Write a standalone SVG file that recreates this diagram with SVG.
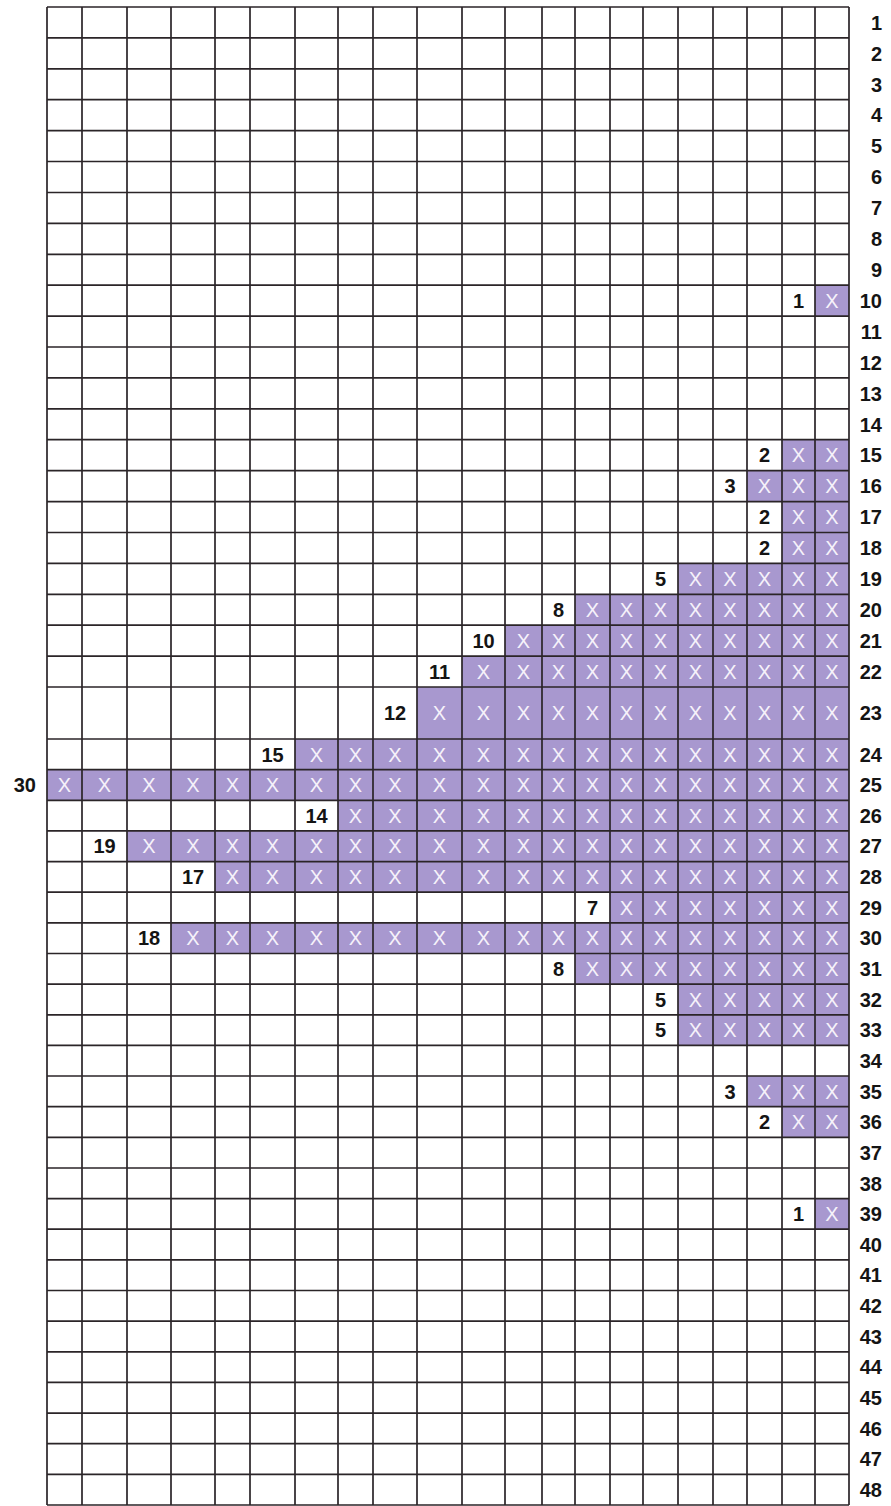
<svg xmlns="http://www.w3.org/2000/svg" width="891" height="1506" viewBox="0 0 891 1506">
<style>
.bg{fill:#ffffff}
.fill{fill:#a898cf}
.grid{fill:none;stroke:#2b2528;stroke-width:1.7}
.lbl{font-family:"Liberation Sans",Arial,sans-serif;font-size:20px;font-weight:bold;fill:#141414;text-anchor:middle}
.rn{font-family:"Liberation Sans",Arial,sans-serif;font-size:20px;font-weight:bold;fill:#141414;text-anchor:end}
.x{font-family:"Liberation Sans",Arial,sans-serif;font-size:20px;fill:#f6f2fa;text-anchor:middle}
</style>
<rect class="bg" x="0" y="0" width="891" height="1506"/>
<g id="fills">
<rect class="fill" x="815" y="285.2" width="34" height="30.9"/>
<rect class="fill" x="782" y="439.7" width="67" height="30.9"/>
<rect class="fill" x="747" y="470.6" width="102" height="30.9"/>
<rect class="fill" x="782" y="501.6" width="67" height="30.9"/>
<rect class="fill" x="782" y="532.5" width="67" height="30.9"/>
<rect class="fill" x="678" y="563.4" width="171" height="30.9"/>
<rect class="fill" x="575" y="594.3" width="274" height="30.9"/>
<rect class="fill" x="505" y="625.2" width="344" height="30.9"/>
<rect class="fill" x="462" y="656.1" width="387" height="30.9"/>
<rect class="fill" x="417" y="687" width="432" height="52"/>
<rect class="fill" x="295" y="739" width="554" height="30.64"/>
<rect class="fill" x="47" y="769.6" width="802" height="30.64"/>
<rect class="fill" x="338" y="800.3" width="511" height="30.64"/>
<rect class="fill" x="127" y="830.9" width="722" height="30.64"/>
<rect class="fill" x="215" y="861.6" width="634" height="30.64"/>
<rect class="fill" x="610" y="892.2" width="239" height="30.64"/>
<rect class="fill" x="171" y="922.8" width="678" height="30.64"/>
<rect class="fill" x="575" y="953.5" width="274" height="30.64"/>
<rect class="fill" x="678" y="984.1" width="171" height="30.64"/>
<rect class="fill" x="678" y="1014.8" width="171" height="30.64"/>
<rect class="fill" x="747" y="1076" width="102" height="30.64"/>
<rect class="fill" x="782" y="1106.7" width="67" height="30.64"/>
<rect class="fill" x="815" y="1198.6" width="34" height="30.64"/>
</g>
<g id="grid">
<path class="grid" d="M47 7H849M47 37.9H849M47 68.8H849M47 99.7H849M47 130.6H849M47 161.5H849M47 192.5H849M47 223.4H849M47 254.3H849M47 285.2H849M47 316.1H849M47 347H849M47 377.9H849M47 408.8H849M47 439.7H849M47 470.6H849M47 501.6H849M47 532.5H849M47 563.4H849M47 594.3H849M47 625.2H849M47 656.1H849M47 687H849M47 739H849M47 769.6H849M47 800.3H849M47 830.9H849M47 861.6H849M47 892.2H849M47 922.8H849M47 953.5H849M47 984.1H849M47 1014.8H849M47 1045.4H849M47 1076H849M47 1106.7H849M47 1137.3H849M47 1168H849M47 1198.6H849M47 1229.2H849M47 1259.9H849M47 1290.5H849M47 1321.2H849M47 1351.8H849M47 1382.4H849M47 1413.1H849M47 1443.7H849M47 1474.4H849M47 1505H849"/>
<path class="grid" d="M47 7V1505M82 7V1505M127 7V1505M171 7V1505M215 7V1505M250 7V1505M295 7V1505M338 7V1505M373 7V1505M417 7V1505M462 7V1505M505 7V1505M542 7V1505M575 7V1505M610 7V1505M643 7V1505M678 7V1505M713 7V1505M747 7V1505M782 7V1505M815 7V1505M849 7V1505"/>
</g>
<g id="row-numbers">
<text class="rn" x="882" y="29.7">1</text><text class="rn" x="882" y="60.6">2</text><text class="rn" x="882" y="91.5">3</text><text class="rn" x="882" y="122.4">4</text><text class="rn" x="882" y="153.3">5</text><text class="rn" x="882" y="184.2">6</text><text class="rn" x="882" y="215.1">7</text><text class="rn" x="882" y="246">8</text><text class="rn" x="882" y="276.9">9</text><text class="rn" x="882" y="307.8">10</text>
<text class="rn" x="882" y="338.8">11</text><text class="rn" x="882" y="369.7">12</text><text class="rn" x="882" y="400.6">13</text><text class="rn" x="882" y="431.5">14</text><text class="rn" x="882" y="462.4">15</text><text class="rn" x="882" y="493.3">16</text><text class="rn" x="882" y="524.2">17</text><text class="rn" x="882" y="555.1">18</text><text class="rn" x="882" y="586">19</text><text class="rn" x="882" y="616.9">20</text>
<text class="rn" x="882" y="647.9">21</text><text class="rn" x="882" y="678.8">22</text><text class="rn" x="882" y="720.2">23</text><text class="rn" x="882" y="761.5">24</text><text class="rn" x="882" y="792.2">25</text><text class="rn" x="882" y="822.8">26</text><text class="rn" x="882" y="853.4">27</text><text class="rn" x="882" y="884.1">28</text><text class="rn" x="882" y="914.7">29</text><text class="rn" x="882" y="945.4">30</text>
<text class="rn" x="882" y="976">31</text><text class="rn" x="882" y="1006.6">32</text><text class="rn" x="882" y="1037.3">33</text><text class="rn" x="882" y="1067.9">34</text><text class="rn" x="882" y="1098.6">35</text><text class="rn" x="882" y="1129.2">36</text><text class="rn" x="882" y="1159.8">37</text><text class="rn" x="882" y="1190.5">38</text><text class="rn" x="882" y="1221.1">39</text><text class="rn" x="882" y="1251.8">40</text>
<text class="rn" x="882" y="1282.4">41</text><text class="rn" x="882" y="1313">42</text><text class="rn" x="882" y="1343.7">43</text><text class="rn" x="882" y="1374.3">44</text><text class="rn" x="882" y="1405">45</text><text class="rn" x="882" y="1435.6">46</text><text class="rn" x="882" y="1466.2">47</text><text class="rn" x="882" y="1496.9">48</text>
</g>
<g id="row10"><text class="lbl" x="798.5" y="307.8">1</text><text class="x" x="832" y="307.8">X</text></g>
<g id="row15"><text class="lbl" x="764.5" y="462.4">2</text><text class="x" x="798.5" y="462.4">X</text><text class="x" x="832" y="462.4">X</text></g>
<g id="row16"><text class="lbl" x="730" y="493.3">3</text><text class="x" x="764.5" y="493.3">X</text><text class="x" x="798.5" y="493.3">X</text><text class="x" x="832" y="493.3">X</text></g>
<g id="row17"><text class="lbl" x="764.5" y="524.2">2</text><text class="x" x="798.5" y="524.2">X</text><text class="x" x="832" y="524.2">X</text></g>
<g id="row18"><text class="lbl" x="764.5" y="555.1">2</text><text class="x" x="798.5" y="555.1">X</text><text class="x" x="832" y="555.1">X</text></g>
<g id="row19"><text class="lbl" x="660.5" y="586">5</text><text class="x" x="695.5" y="586">X</text><text class="x" x="730" y="586">X</text><text class="x" x="764.5" y="586">X</text><text class="x" x="798.5" y="586">X</text><text class="x" x="832" y="586">X</text></g>
<g id="row20"><text class="lbl" x="558.5" y="616.9">8</text><text class="x" x="592.5" y="616.9">X</text><text class="x" x="626.5" y="616.9">X</text><text class="x" x="660.5" y="616.9">X</text><text class="x" x="695.5" y="616.9">X</text><text class="x" x="730" y="616.9">X</text><text class="x" x="764.5" y="616.9">X</text><text class="x" x="798.5" y="616.9">X</text><text class="x" x="832" y="616.9">X</text></g>
<g id="row21"><text class="lbl" x="483.5" y="647.9">10</text><text class="x" x="523.5" y="647.9">X</text><text class="x" x="558.5" y="647.9">X</text><text class="x" x="592.5" y="647.9">X</text><text class="x" x="626.5" y="647.9">X</text><text class="x" x="660.5" y="647.9">X</text><text class="x" x="695.5" y="647.9">X</text><text class="x" x="730" y="647.9">X</text><text class="x" x="764.5" y="647.9">X</text><text class="x" x="798.5" y="647.9">X</text><text class="x" x="832" y="647.9">X</text></g>
<g id="row22"><text class="lbl" x="439.5" y="678.8">11</text><text class="x" x="483.5" y="678.8">X</text><text class="x" x="523.5" y="678.8">X</text><text class="x" x="558.5" y="678.8">X</text><text class="x" x="592.5" y="678.8">X</text><text class="x" x="626.5" y="678.8">X</text><text class="x" x="660.5" y="678.8">X</text><text class="x" x="695.5" y="678.8">X</text><text class="x" x="730" y="678.8">X</text><text class="x" x="764.5" y="678.8">X</text><text class="x" x="798.5" y="678.8">X</text><text class="x" x="832" y="678.8">X</text></g>
<g id="row23"><text class="lbl" x="395" y="720.2">12</text><text class="x" x="439.5" y="720.2">X</text><text class="x" x="483.5" y="720.2">X</text><text class="x" x="523.5" y="720.2">X</text><text class="x" x="558.5" y="720.2">X</text><text class="x" x="592.5" y="720.2">X</text><text class="x" x="626.5" y="720.2">X</text><text class="x" x="660.5" y="720.2">X</text><text class="x" x="695.5" y="720.2">X</text><text class="x" x="730" y="720.2">X</text><text class="x" x="764.5" y="720.2">X</text><text class="x" x="798.5" y="720.2">X</text><text class="x" x="832" y="720.2">X</text></g>
<g id="row24"><text class="lbl" x="272.5" y="761.5">15</text><text class="x" x="316.5" y="761.5">X</text><text class="x" x="355.5" y="761.5">X</text><text class="x" x="395" y="761.5">X</text><text class="x" x="439.5" y="761.5">X</text><text class="x" x="483.5" y="761.5">X</text><text class="x" x="523.5" y="761.5">X</text><text class="x" x="558.5" y="761.5">X</text><text class="x" x="592.5" y="761.5">X</text><text class="x" x="626.5" y="761.5">X</text><text class="x" x="660.5" y="761.5">X</text><text class="x" x="695.5" y="761.5">X</text><text class="x" x="730" y="761.5">X</text><text class="x" x="764.5" y="761.5">X</text><text class="x" x="798.5" y="761.5">X</text><text class="x" x="832" y="761.5">X</text></g>
<g id="row25"><text class="rn" x="36" y="792.2">30</text><text class="x" x="64.5" y="792.2">X</text><text class="x" x="104.5" y="792.2">X</text><text class="x" x="149" y="792.2">X</text><text class="x" x="193" y="792.2">X</text><text class="x" x="232.5" y="792.2">X</text><text class="x" x="272.5" y="792.2">X</text><text class="x" x="316.5" y="792.2">X</text><text class="x" x="355.5" y="792.2">X</text><text class="x" x="395" y="792.2">X</text><text class="x" x="439.5" y="792.2">X</text><text class="x" x="483.5" y="792.2">X</text><text class="x" x="523.5" y="792.2">X</text><text class="x" x="558.5" y="792.2">X</text><text class="x" x="592.5" y="792.2">X</text><text class="x" x="626.5" y="792.2">X</text><text class="x" x="660.5" y="792.2">X</text><text class="x" x="695.5" y="792.2">X</text><text class="x" x="730" y="792.2">X</text><text class="x" x="764.5" y="792.2">X</text><text class="x" x="798.5" y="792.2">X</text><text class="x" x="832" y="792.2">X</text></g>
<g id="row26"><text class="lbl" x="316.5" y="822.8">14</text><text class="x" x="355.5" y="822.8">X</text><text class="x" x="395" y="822.8">X</text><text class="x" x="439.5" y="822.8">X</text><text class="x" x="483.5" y="822.8">X</text><text class="x" x="523.5" y="822.8">X</text><text class="x" x="558.5" y="822.8">X</text><text class="x" x="592.5" y="822.8">X</text><text class="x" x="626.5" y="822.8">X</text><text class="x" x="660.5" y="822.8">X</text><text class="x" x="695.5" y="822.8">X</text><text class="x" x="730" y="822.8">X</text><text class="x" x="764.5" y="822.8">X</text><text class="x" x="798.5" y="822.8">X</text><text class="x" x="832" y="822.8">X</text></g>
<g id="row27"><text class="lbl" x="104.5" y="853.4">19</text><text class="x" x="149" y="853.4">X</text><text class="x" x="193" y="853.4">X</text><text class="x" x="232.5" y="853.4">X</text><text class="x" x="272.5" y="853.4">X</text><text class="x" x="316.5" y="853.4">X</text><text class="x" x="355.5" y="853.4">X</text><text class="x" x="395" y="853.4">X</text><text class="x" x="439.5" y="853.4">X</text><text class="x" x="483.5" y="853.4">X</text><text class="x" x="523.5" y="853.4">X</text><text class="x" x="558.5" y="853.4">X</text><text class="x" x="592.5" y="853.4">X</text><text class="x" x="626.5" y="853.4">X</text><text class="x" x="660.5" y="853.4">X</text><text class="x" x="695.5" y="853.4">X</text><text class="x" x="730" y="853.4">X</text><text class="x" x="764.5" y="853.4">X</text><text class="x" x="798.5" y="853.4">X</text><text class="x" x="832" y="853.4">X</text></g>
<g id="row28"><text class="lbl" x="193" y="884.1">17</text><text class="x" x="232.5" y="884.1">X</text><text class="x" x="272.5" y="884.1">X</text><text class="x" x="316.5" y="884.1">X</text><text class="x" x="355.5" y="884.1">X</text><text class="x" x="395" y="884.1">X</text><text class="x" x="439.5" y="884.1">X</text><text class="x" x="483.5" y="884.1">X</text><text class="x" x="523.5" y="884.1">X</text><text class="x" x="558.5" y="884.1">X</text><text class="x" x="592.5" y="884.1">X</text><text class="x" x="626.5" y="884.1">X</text><text class="x" x="660.5" y="884.1">X</text><text class="x" x="695.5" y="884.1">X</text><text class="x" x="730" y="884.1">X</text><text class="x" x="764.5" y="884.1">X</text><text class="x" x="798.5" y="884.1">X</text><text class="x" x="832" y="884.1">X</text></g>
<g id="row29"><text class="lbl" x="592.5" y="914.7">7</text><text class="x" x="626.5" y="914.7">X</text><text class="x" x="660.5" y="914.7">X</text><text class="x" x="695.5" y="914.7">X</text><text class="x" x="730" y="914.7">X</text><text class="x" x="764.5" y="914.7">X</text><text class="x" x="798.5" y="914.7">X</text><text class="x" x="832" y="914.7">X</text></g>
<g id="row30"><text class="lbl" x="149" y="945.4">18</text><text class="x" x="193" y="945.4">X</text><text class="x" x="232.5" y="945.4">X</text><text class="x" x="272.5" y="945.4">X</text><text class="x" x="316.5" y="945.4">X</text><text class="x" x="355.5" y="945.4">X</text><text class="x" x="395" y="945.4">X</text><text class="x" x="439.5" y="945.4">X</text><text class="x" x="483.5" y="945.4">X</text><text class="x" x="523.5" y="945.4">X</text><text class="x" x="558.5" y="945.4">X</text><text class="x" x="592.5" y="945.4">X</text><text class="x" x="626.5" y="945.4">X</text><text class="x" x="660.5" y="945.4">X</text><text class="x" x="695.5" y="945.4">X</text><text class="x" x="730" y="945.4">X</text><text class="x" x="764.5" y="945.4">X</text><text class="x" x="798.5" y="945.4">X</text><text class="x" x="832" y="945.4">X</text></g>
<g id="row31"><text class="lbl" x="558.5" y="976">8</text><text class="x" x="592.5" y="976">X</text><text class="x" x="626.5" y="976">X</text><text class="x" x="660.5" y="976">X</text><text class="x" x="695.5" y="976">X</text><text class="x" x="730" y="976">X</text><text class="x" x="764.5" y="976">X</text><text class="x" x="798.5" y="976">X</text><text class="x" x="832" y="976">X</text></g>
<g id="row32"><text class="lbl" x="660.5" y="1006.6">5</text><text class="x" x="695.5" y="1006.6">X</text><text class="x" x="730" y="1006.6">X</text><text class="x" x="764.5" y="1006.6">X</text><text class="x" x="798.5" y="1006.6">X</text><text class="x" x="832" y="1006.6">X</text></g>
<g id="row33"><text class="lbl" x="660.5" y="1037.3">5</text><text class="x" x="695.5" y="1037.3">X</text><text class="x" x="730" y="1037.3">X</text><text class="x" x="764.5" y="1037.3">X</text><text class="x" x="798.5" y="1037.3">X</text><text class="x" x="832" y="1037.3">X</text></g>
<g id="row35"><text class="lbl" x="730" y="1098.6">3</text><text class="x" x="764.5" y="1098.6">X</text><text class="x" x="798.5" y="1098.6">X</text><text class="x" x="832" y="1098.6">X</text></g>
<g id="row36"><text class="lbl" x="764.5" y="1129.2">2</text><text class="x" x="798.5" y="1129.2">X</text><text class="x" x="832" y="1129.2">X</text></g>
<g id="row39"><text class="lbl" x="798.5" y="1221.1">1</text><text class="x" x="832" y="1221.1">X</text></g>
</svg>
